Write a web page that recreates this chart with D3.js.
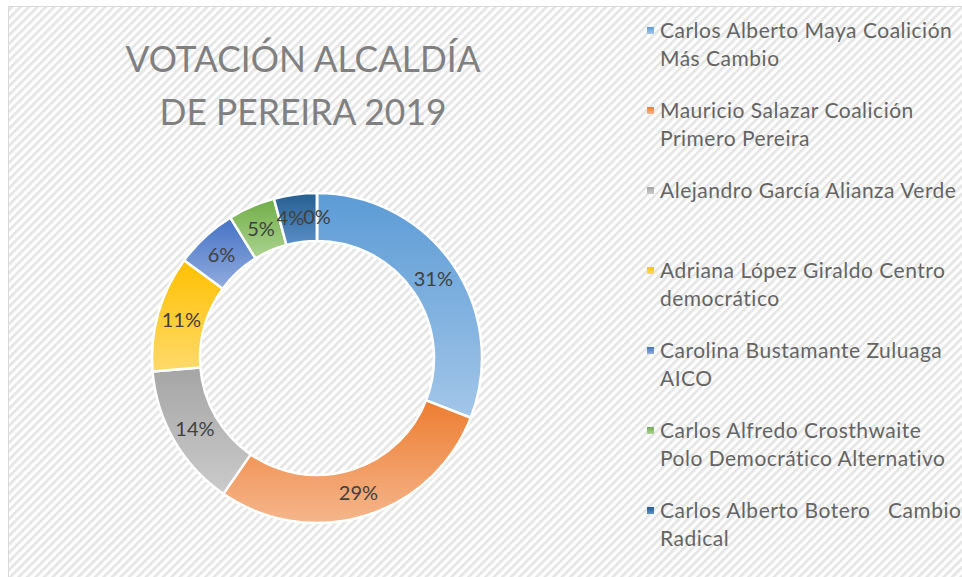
<!DOCTYPE html>
<html lang="es">
    <head>
        <meta charset="utf-8">
        <title>Votación Alcaldía de Pereira 2019</title>
        <script type="text/javascript" src="https://d3js.org/d3.v7.min.js"></script>
        <style type="text/css">
            body { margin: 0; background: #fff; }
            text { font-family: Lato, "Open Sans", sans-serif; }
        </style>
    </head>
    <body>
        <script type="text/javascript">
            //Width and height
            var w = 962;
            var h = 577;

            // data (share of votes, %)
            var categories = [
                "Carlos Alberto Maya Coalición\nMás Cambio",
                "Mauricio Salazar Coalición\nPrimero Pereira",
                "Alejandro García Alianza Verde",
                "Adriana López Giraldo Centro\ndemocrático",
                "Carolina Bustamante Zuluaga\nAICO",
                "Carlos Alfredo Crosthwaite\nPolo Democrático Alternativo",
                "Carlos Alberto Botero   Cambio\nRadical",
                ""
            ];
            var values = [30.9, 28.7, 14.1, 11.4, 6.1, 4.6, 4.2, 0];
            var topColors = ["#5b9bd5", "#ed7d31", "#a5a5a5", "#ffc000", "#4472c4", "#70ad47", "#255e91", "#9e480e"];
            var bottomColors = ["#a3c6e9", "#f5b68c", "#cbcbcb", "#ffda6b", "#92acdf", "#acd491", "#5a90c8", "#c9845a"];
            var titleLines = ["VOTACIÓN ALCALDÍA", "DE PEREIRA 2019"];

            var data = categories.map(function(c, i) {
                return {name: c, value: values[i], i: i};
            });

            //Create SVG element
            var svg = d3.select("body")
                        .append("svg")
                        .attr("width", w)
                        .attr("height", h);

            var defs = svg.append("defs");

            // diagonal hatch background
            var pat = defs.append("pattern")
                .attr("id", "hatch")
                .attr("patternUnits", "userSpaceOnUse")
                .attr("width", 6)
                .attr("height", 6)
                .attr("patternTransform", "rotate(-45)");
            pat.append("rect").attr("width", 6).attr("height", 6).attr("fill", "#ffffff");
            pat.append("rect").attr("width", 6).attr("height", 2.6).attr("fill", "#e4e4e4");

            data.forEach(function(d) {
                var g = defs.append("linearGradient")
                    .attr("id", "grad" + d.i)
                    .attr("x1", 0).attr("y1", 0)
                    .attr("x2", 0).attr("y2", 1);
                g.append("stop").attr("offset", "0%").attr("stop-color", topColors[d.i]);
                g.append("stop").attr("offset", "100%").attr("stop-color", bottomColors[d.i]);
            });

            svg.append("rect")
               .attr("x", 8.5)
               .attr("y", 6.5)
               .attr("width", w)
               .attr("height", h)
               .attr("fill", "url(#hatch)")
               .attr("stroke", "#d9d9d9")
               .attr("stroke-width", 1);

            // title
            svg.selectAll("text.title")
               .data(titleLines)
               .enter()
               .append("text")
               .attr("class", "title")
               .attr("x", 303)
               .attr("y", function(d, i) { return 72 + i * 53; })
               .attr("text-anchor", "middle")
               .attr("font-size", "37px")
               .attr("fill", "#808080")
               .attr("textLength", function(d, i) { return i === 0 ? 355 : 287; })
               .attr("lengthAdjust", "spacingAndGlyphs")
               .text(function(d) { return d; });

            // donut
            var cx = 317, cy = 358;
            var outerR = 165, innerR = 117;

            var pie = d3.pie()
                        .sort(null)
                        .value(function(d) { return d.value; });

            var arc = d3.arc()
                        .innerRadius(innerR)
                        .outerRadius(outerR);

            var labelArc = d3.arc()
                        .innerRadius((innerR + outerR) / 2)
                        .outerRadius((innerR + outerR) / 2);

            var donut = svg.append("g")
                           .attr("transform", "translate(" + cx + "," + cy + ")");

            var arcs = pie(data);

            donut.selectAll("path")
               .data(arcs)
               .enter()
               .append("path")
               .attr("d", arc)
               .attr("fill", function(d) { return "url(#grad" + d.data.i + ")"; })
               .attr("stroke", "#ffffff")
               .attr("stroke-width", 2.5)
               .attr("stroke-linejoin", "round");

            donut.selectAll("text")
               .data(arcs)
               .enter()
               .append("text")
               .attr("transform", function(d) {
                    var c = labelArc.centroid(d);
                    // small slices at the top crowd together; nudge the 4% one left like the original
                    if (d.index === 6) c[0] -= 8;
                    return "translate(" + c + ")";
               })
               .attr("dy", "0.36em")
               .attr("text-anchor", "middle")
               .attr("font-size", "20px")
               .attr("fill", "#404040")
               .text(function(d) { return Math.round(d.data.value) + "%"; });

            // legend
            var legendData = data.filter(function(d) { return d.name !== ""; });

            var legend = svg.selectAll("g.legend")
               .data(legendData)
               .enter()
               .append("g")
               .attr("class", "legend")
               .attr("transform", function(d, i) {
                    return "translate(647," + (38 + i * 80) + ")";
               });

            legend.append("rect")
               .attr("x", 0)
               .attr("y", -11)
               .attr("width", 7)
               .attr("height", 7)
               .attr("fill", function(d) { return "url(#grad" + d.i + ")"; });

            legend.append("text")
               .attr("x", 13)
               .attr("font-size", "21px")
               .attr("letter-spacing", "0.5px")
               .attr("fill", "#646464")
               .attr("xml:space", "preserve")
               .style("white-space", "pre")
               .selectAll("tspan")
               .data(function(d) { return d.name.split("\n"); })
               .enter()
               .append("tspan")
               .attr("x", 13)
               .attr("dy", function(d, i) { return i === 0 ? 0 : 28; })
               .text(function(d) { return d; });

        </script>
    </body>
</html>
